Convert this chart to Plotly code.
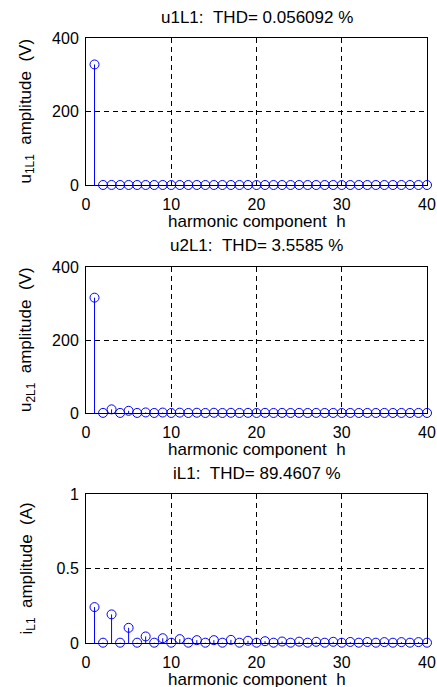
import plotly.graph_objects as go

W, H = 437, 687

harmonics = list(range(1, 41))

u1L1 = [328, 0.05, 0.12, 0.03, 0.08, 0.02, 0.06, 0.02, 0.04, 0.01,
        0.03, 0.01, 0.03, 0.01, 0.02, 0.01, 0.02, 0.01, 0.02, 0.01,
        0.02, 0.01, 0.01, 0.01, 0.01, 0.01, 0.01, 0.01, 0.01, 0.01,
        0.01, 0.01, 0.01, 0.01, 0.01, 0.01, 0.01, 0.01, 0.01, 0.01]

u2L1 = [316, 0.3, 10.0, 0.2, 6.0, 0.2, 1.5, 0.1, 1.2, 0.1,
        0.9, 0.1, 0.7, 0.1, 0.6, 0.1, 0.5, 0.1, 0.4, 0.1,
        0.4, 0.1, 0.3, 0.1, 0.3, 0.1, 0.3, 0.1, 0.2, 0.1,
        0.2, 0.1, 0.2, 0.1, 0.2, 0.1, 0.2, 0.1, 0.2, 0.1]

iL1 = [0.241, 0.002, 0.192, 0.002, 0.102, 0.002, 0.044, 0.002, 0.032, 0.002,
       0.026, 0.002, 0.019, 0.002, 0.019, 0.002, 0.021, 0.002, 0.015, 0.002,
       0.012, 0.002, 0.010, 0.002, 0.009, 0.002, 0.008, 0.002, 0.008, 0.002,
       0.007, 0.002, 0.007, 0.002, 0.006, 0.002, 0.006, 0.002, 0.006, 0.002]

titles = ["u1L1:\u00a0\u00a0THD= 0.056092 %",
          "u2L1:\u00a0\u00a0THD= 3.5585 %",
          "iL1:\u00a0\u00a0THD= 89.4607 %"]
ylabels = ["u<sub>1L1</sub>\u00a0\u00a0amplitude\u00a0\u00a0(V)",
           "u<sub>2L1</sub>\u00a0\u00a0amplitude\u00a0\u00a0(V)",
           "i<sub>L1</sub>\u00a0\u00a0amplitude\u00a0\u00a0(A)"]
xlabel = "harmonic component\u00a0\u00a0h"
yranges = [[0, 400], [0, 400], [0, 1]]
ytickvals = [[0, 200, 400], [0, 200, 400], [0, 0.5, 1]]
yticktext = [["0", "200", "400"], ["0", "200", "400"], ["0", "0.5", "1"]]
xtickvals = [0, 10, 20, 30, 40]

series = [u1L1, u2L1, iL1]

# pixel geometry of axes (top, bottom)
boxes = [(38, 185), (267, 413), (494, 643)]
left_px, right_px = 86, 427

FONT = "Liberation Sans, Arial, sans-serif"
FS = 17
TFS = 16
BLUE = "#0000ff"

fig = go.Figure()
annotations = []
for i, vals in enumerate(series):
    xa = "x" if i == 0 else f"x{i+1}"
    ya = "y" if i == 0 else f"y{i+1}"
    sx, sy = [], []
    for h, v in zip(harmonics, vals):
        sx += [h, h, None]
        sy += [0, v, None]
    fig.add_trace(go.Scatter(x=sx, y=sy, mode="lines", xaxis=xa, yaxis=ya,
                             line=dict(color=BLUE, width=1), showlegend=False,
                             hoverinfo="skip"))
    fig.add_trace(go.Scatter(x=harmonics, y=vals, mode="markers", xaxis=xa, yaxis=ya,
                             marker=dict(symbol="circle-open", size=9, color=BLUE,
                                         line=dict(color=BLUE, width=1)),
                             cliponaxis=False, showlegend=False))
    top, bot = boxes[i]
    axis_common = dict(showline=True, linecolor="black", linewidth=1, mirror=True,
                       ticks="inside", ticklen=4, tickcolor="black",
                       showgrid=True, gridcolor="black", gridwidth=1, griddash="5px,4px",
                       zeroline=False, fixedrange=True, automargin=False,
                       title=dict(text="", standoff=0, font=dict(size=1)),
                       tickfont=dict(family=FONT, size=TFS, color="black"))
    xkey = "xaxis" if i == 0 else f"xaxis{i+1}"
    ykey = "yaxis" if i == 0 else f"yaxis{i+1}"
    fig.update_layout(**{
        xkey: dict(domain=[left_px / W, right_px / W], anchor=ya, range=[0, 40],
                   tickvals=xtickvals, ticklabelstandoff=5, **axis_common),
        ykey: dict(domain=[1 - bot / H, 1 - top / H], anchor=xa, range=yranges[i],
                   tickvals=ytickvals[i], ticktext=yticktext[i], ticklabelstandoff=3,
                   **axis_common),
    })
    cx = (left_px + right_px) / 2 / W
    annotations.append(dict(text=titles[i], x=cx, y=1 - (top - 21) / H, xref="paper", yref="paper",
                            showarrow=False, xanchor="center", yanchor="middle",
                            font=dict(family=FONT, size=FS, color="black")))
    annotations.append(dict(text=xlabel, x=cx, y=1 - (bot + 36) / H, xref="paper", yref="paper",
                            showarrow=False, xanchor="center", yanchor="middle",
                            font=dict(family=FONT, size=FS, color="black")))
    annotations.append(dict(text=ylabels[i], x=27 / W, y=1 - (top + bot) / 2 / H,
                            xref="paper", yref="paper", textangle=-90,
                            showarrow=False, xanchor="center", yanchor="middle",
                            font=dict(family=FONT, size=FS, color="black")))

fig.update_layout(width=W, height=H, margin=dict(l=0, r=0, t=0, b=0),
                  paper_bgcolor="white", plot_bgcolor="white",
                  annotations=annotations, showlegend=False)

post = (
    "document.documentElement.style.overflow='hidden';"
    "document.body.style.margin='0';document.body.style.overflow='hidden';"
    "var gd=document.getElementById('{plot_id}');"
    "if(gd){gd.style.overflow='hidden';"
    "gd.querySelectorAll('.infolayer > g[class$=\"title\"]').forEach(function(e){e.remove();});"
    "var p=gd.parentElement;if(p){p.style.overflow='hidden';p.style.width='437px';p.style.height='687px';}}"
)

fig.write_html("out.html",
               config={"displayModeBar": False, "staticPlot": True, "responsive": False},
               post_script=post)
